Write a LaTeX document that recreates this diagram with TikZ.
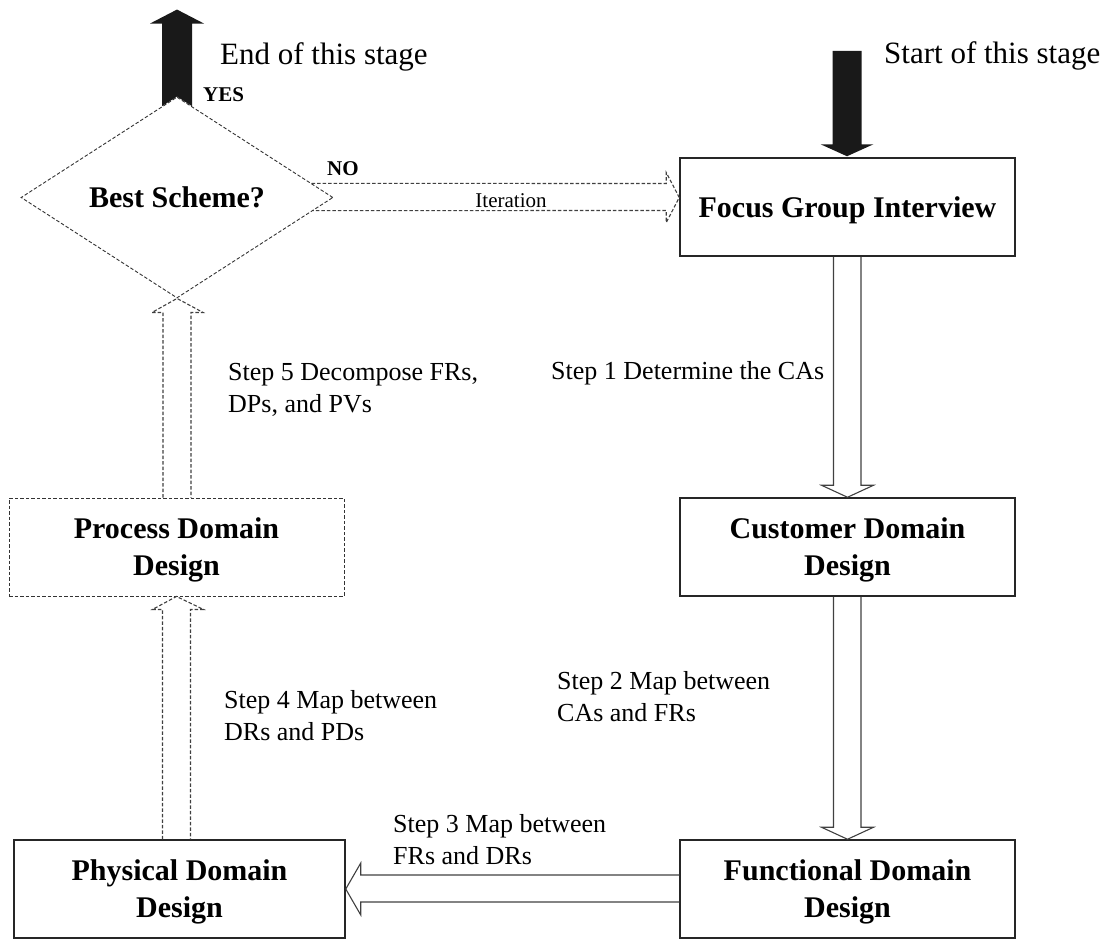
\documentclass[tikz,border=0pt]{standalone}
\usepackage{fontspec}
\setmainfont{Liberation Serif}
\usetikzlibrary{shapes.geometric,calc}

\tikzset{
  box/.style={draw=black!85, line width=1.5pt, minimum width=335pt, minimum height=98pt,
    inner sep=0pt, align=center, text depth=0pt, font=\fontsize{30}{37}\selectfont\bfseries},
  dbox/.style={box, draw=black!80, line width=0.9pt, dash pattern=on 3.5pt off 2pt},
  decision/.style={diamond, draw=black!80, line width=0.9pt, dash pattern=on 3.5pt off 2pt,
    minimum width=312pt, minimum height=201pt, inner sep=0pt,
    font=\fontsize{30}{36}\selectfont\bfseries},
  hollow/.style={draw=black!75, line width=1.1pt, line join=miter},
  dhollow/.style={hollow, dash pattern=on 3.5pt off 2pt},
  solidarrow/.style={fill=black!90, draw=none},
  steplabel/.style={anchor=base west, inner sep=0pt, align=left,
    font=\fontsize{26}{32}\selectfont},
  stagelabel/.style={anchor=base west, inner sep=0pt, font=\fontsize{31}{36}\selectfont},
  answer/.style={anchor=base west, inner sep=0pt, font=\fontsize{21}{24}\selectfont\bfseries},
}

\begin{document}
\begin{tikzpicture}[x=1pt, y=-1pt]
\useasboundingbox (0,0) rectangle (1105,939);

% Domain boxes
\node[box] (focus) at (847.5,207) {Focus Group Interview};
\node[box] (cust)  at (847.5,547) {Customer Domain\\Design};
\node[box] (func)  at (847.5,889) {Functional Domain\\Design};
\node[box, minimum width=331pt] (phys) at (179.5,889) {Physical Domain\\Design};
\node[dbox] (proc) at (176.5,547) {Process Domain\\Design};
\node[decision] (best) at (177,197.5) {Best Scheme?};

% Start of the stage: solid arrow into the interview box
\coordinate (start) at (847,51);
\fill[solidarrow] ($(start)+(-14.5,0)$) -- ($(focus.north)+(-15,-13)$) -- ($(focus.north)+(-27,-13)$)
  -- ($(focus.north)+(-0.5,-1)$) -- ($(focus.north)+(26,-13)$) -- ($(focus.north)+(14,-13)$)
  -- ($(start)+(14.5,0)$) -- cycle;
\node[stagelabel] (startlbl) at (884,64) {Start of this stage};

% End of the stage: solid arrow leaving the decision
\coordinate (finish) at ($(best.north)+(0,-87)$);
\fill[solidarrow] ($(best.north)+(-15,9.6)$) -- ($(best.north)+(-15,-73)$) -- ($(best.north)+(-27,-73)$)
  -- (finish) -- ($(best.north)+(27,-73)$) -- ($(best.north)+(15,-73)$)
  -- ($(best.north)+(15,9.6)$) -- (best.north) -- cycle;
\node[stagelabel] (endlbl) at (220,65) {End of this stage};
\node[answer] (yes) at (203,102) {YES};

% Step 1: interview -> customer domain
\draw[hollow] ($(focus.south)+(-14,0)$) -- ($(cust.north)+(-14,-12)$) -- ($(cust.north)+(-26,-12)$)
  -- (cust.north) -- ($(cust.north)+(26,-12)$) -- ($(cust.north)+(13.5,-12)$) -- ($(focus.south)+(13.5,0)$);
\node[steplabel] (s1) at (551,379) {Step 1 Determine the CAs};

% Step 2: customer -> functional domain
\draw[hollow] ($(cust.south)+(-14,0)$) -- ($(func.north)+(-14,-12)$) -- ($(func.north)+(-26,-12)$)
  -- (func.north) -- ($(func.north)+(26,-12)$) -- ($(func.north)+(13.5,-12)$) -- ($(cust.south)+(13.5,0)$);
\node[steplabel] (s2) at (557,721) {Step 2 Map between\\CAs and FRs};

% Step 3: functional -> physical domain
\draw[hollow] ($(func.west)+(0,-14)$) -- ($(phys.east)+(15,-14)$) -- ($(phys.east)+(15,-26)$)
  -- (phys.east) -- ($(phys.east)+(15,26)$) -- ($(phys.east)+(15,13)$) -- ($(func.west)+(0,13)$);
\node[steplabel] (s3) at (393,864) {Step 3 Map between\\FRs and DRs};

% Step 4: physical -> process domain
\coordinate (foot4) at (proc.south |- phys.north);
\draw[dhollow] ($(foot4)+(-14,0)$) -- ($(proc.south)+(-14,13)$) -- ($(proc.south)+(-24,13)$)
  -- (proc.south) -- ($(proc.south)+(27,13)$) -- ($(proc.south)+(14,13)$) -- ($(foot4)+(14,0)$);
\node[steplabel] (s4) at (224,740) {Step 4 Map between\\DRs and PDs};

% Step 5: process domain -> decision
\coordinate (foot5) at (best.south |- proc.north);
\draw[dhollow] ($(foot5)+(-14,0)$) -- ($(best.south)+(-14,14)$) -- ($(best.south)+(-25,14)$)
  -- (best.south) -- ($(best.south)+(26,14)$) -- ($(best.south)+(14,14)$) -- ($(foot5)+(14,0)$);
\node[steplabel] (s5) at (228,412) {Step 5 Decompose FRs,\\DPs, and PVs};

% Iteration: decision -> interview
\coordinate (tip) at (focus.west |- best.east);
\draw[dhollow] ($(best.east)!0.14!(best.north)$) -- ($(tip)+(-13,-14)$) -- ($(tip)+(-13,-25)$)
  -- (tip) -- ($(tip)+(-13,25)$) -- ($(tip)+(-13,13)$) -- ($(best.east)!0.13!(best.south)$);
\node[answer] (no) at (327,175) {NO};
\node[font=\fontsize{21}{24}\selectfont, anchor=base, inner sep=0pt] (iter) at (511,207) {Iteration};
\end{tikzpicture}
\end{document}
